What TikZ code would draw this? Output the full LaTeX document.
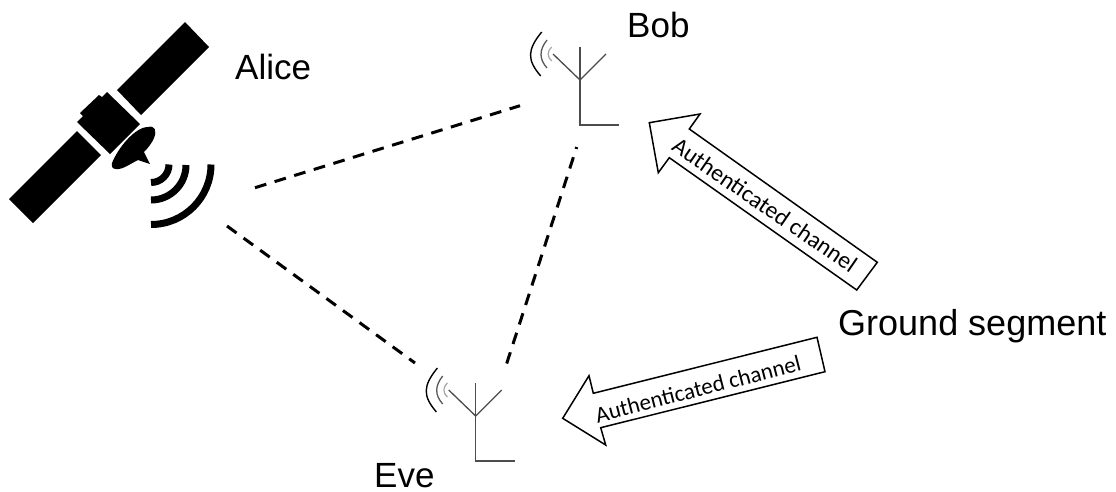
\documentclass[tikz,border=0pt]{standalone}
\usepackage{fontspec}
\setmainfont{Liberation Sans}
\newfontfamily\calfont{Carlito}
\tikzset{
 sat/.style={fill=black,draw=none},
 link/.style={line width=3pt,dash pattern=on 11.8pt off 8.7pt,black},
 ant/.style={line width=1.3pt,color=black!70},
 wave/.style={line width=7pt,black},
 lbl/.style={inner sep=0pt,anchor=base,font=\fontsize{35}{35}\selectfont,text=black},
 chan/.style={draw=black,line width=1.5pt,fill=white,line join=miter},
 chtext/.style={inner sep=0pt,text=black,font=\calfont\fontsize{23.7}{24}\selectfont},
}
\newcommand{\antenna}[3]{%
 \begin{scope}[shift={(#1,#2)}]
  \coordinate (#3top) at (0,0);
  \draw[ant] (0,0) -- (0,78) -- (39,78);
  \draw[ant] (-27,7) -- (0,33) -- (26,7);
  \draw[line width=1.4pt,black] (-38.3,-15) .. controls (-53,3) and (-53,13) .. (-39.3,29);
  \draw[line width=1.3pt,black!65] (-33,-7) .. controls (-41,3) and (-41,12) .. (-33,21);
  \draw[line width=1.2pt,black!35] (-28.3,0) .. controls (-33,4) and (-33,10) .. (-28.3,14);
 \end{scope}}
\begin{document}
\begin{tikzpicture}[x=1pt,y=-1pt]
\useasboundingbox (0,0) rectangle (1116,491);
\fill[white] (0,0) rectangle (1116,491);
% satellite
\fill[sat] (185,22) -- (209,47) -- (141,115) -- (117,90) -- cycle;
\fill[sat] (77,131) -- (101,155) -- (33,223) -- (9,199) -- cycle;
\fill[sat] (107,92) -- (140,124) -- (110,154) -- (77,122) -- (83,116) -- (80,113) -- (99,95) -- (102,97) -- cycle;
\fill[sat] (112,163) .. controls (118,148) and (135,127) .. (148,127) .. controls (155,125) and (157,131) .. (154,138) .. controls (152,143) and (148,148) .. (144,152) -- (150,164) -- (138,160) .. controls (130,164) and (122,170) .. (116,169) .. controls (113,169) and (111,167) .. (112,163) -- cycle;
\draw[wave] (151,182.5) arc[start angle=90,end angle=0,radius=18];
\draw[wave] (151,200) arc[start angle=90,end angle=0,radius=35];
\draw[wave] (151,224.5) arc[start angle=90,end angle=0,radius=60];
% antennas
\antenna{580}{47}{bob}
\antenna{475.7}{383}{eve}
% link ends
\coordinate (aliceA) at (255,187.7);
\coordinate (bobA) at (520,105.7);
\coordinate (aliceB) at (227,226);
\coordinate (eveA) at (415,363);
\coordinate (bobB) at (576.7,147);
\coordinate (eveB) at (506.7,363.5);
\draw[link] (aliceA) -- (bobA);
\draw[link] (aliceB) -- (eveA);
\draw[link] (eveB) -- (bobB);
% channels
\draw[chan] (649.3,122.7) -- (700,114) -- (689.3,129) -- (877.3,262.3) -- (856.7,290) -- (669.3,157.7) -- (658.3,172.7) -- cycle;
\draw[chan] (562.7,418.3) -- (589,375.7) -- (593.3,393.3) -- (817,337.3) -- (825,371.7) -- (600.7,427.7) -- (605.7,445) -- cycle;
\node[chtext,rotate=-34.5] (chA) at (765,205) {Authenticated channel};
\node[chtext,rotate=14.5,scale=.97] (chB) at (698,389) {Authenticated channel};
% labels
\node[lbl,anchor=base west] (alice) at (235,79) {Alice};
\node[lbl,anchor=base west] (bob) at (627,37) {Bob};
\node[lbl,anchor=base west] (eve) at (374,487) {Eve};
\node[lbl,anchor=base west,font=\fontsize{36}{36}\selectfont] (ground) at (838,335) {Ground segment};
\end{tikzpicture}
\end{document}
